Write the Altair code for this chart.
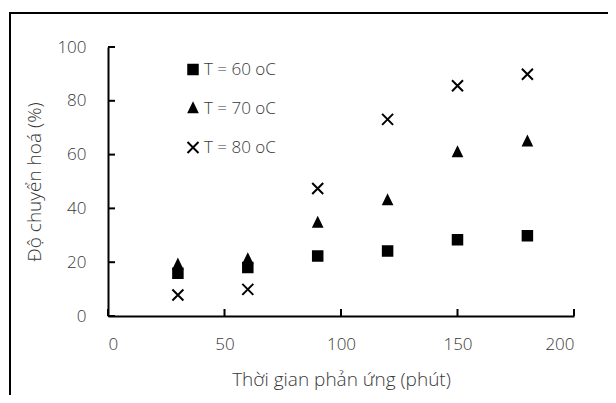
import altair as alt
import pandas as pd

times = [30, 60, 90, 120, 150, 180]
conv_60 = [15.9, 18.0, 22.3, 24.2, 28.3, 29.8]
conv_70 = [19.0, 21.0, 34.6, 42.9, 60.8, 64.8]
conv_80 = [7.8, 9.9, 47.4, 73.1, 85.6, 89.9]
series = ["T = 60 oC", "T = 70 oC", "T = 80 oC"]
x_ticks = [0, 50, 100, 150, 200]
y_ticks = [0, 20, 40, 60, 80, 100]
x_title = "Thời gian phản ứng (phút)"
y_title = "Độ chuyển hoá (%)"

W, H = 466, 269
FONT = "Open Sans"
TXT = "#383838"

rows = []
for name, vals in zip(series, [conv_60, conv_70, conv_80]):
    for t, v in zip(times, vals):
        rows.append({"t": t, "v": v, "s": name})
df = pd.DataFrame(rows)

sq = "M-0.95,-0.95L0.95,-0.95L0.95,0.95L-0.95,0.95Z"
tri = "M0,-1L0.85,0.75L-0.85,0.75Z"
cross = "M-1.1,-1.1L1.1,1.1M1.1,-1.1L-1.1,1.1"

xs = alt.Scale(domain=[0, 200], nice=False, zero=True)
ys = alt.Scale(domain=[0, 100], nice=False, zero=True)

points = alt.Chart(df).mark_point(
    filled=True, color="black", fill="black", stroke="black", strokeWidth=2,
    opacity=1, fillOpacity=1, strokeOpacity=1, size=100
).encode(
    x=alt.X("t:Q", scale=xs, axis=alt.Axis(
        values=x_ticks, title=x_title, ticks=False, grid=False,
        labelPadding=20, titlePadding=18)),
    y=alt.Y("v:Q", scale=ys, axis=alt.Axis(
        values=y_ticks, title=y_title, ticks=False, grid=False,
        labelPadding=22, titlePadding=12)),
    shape=alt.Shape("s:N", scale=alt.Scale(domain=series, range=[sq, tri, cross]),
                    legend=None),
)

leg_df = pd.DataFrame({"s": series})
leg_y = alt.Y("s:N", scale=alt.Scale(domain=series, range=[3, 120]), axis=None)
leg_pts = alt.Chart(leg_df).mark_point(
    filled=True, color="black", fill="black", stroke="black", strokeWidth=2,
    opacity=1, size=100
).encode(
    y=leg_y, x=alt.value(85),
    shape=alt.Shape("s:N", scale=alt.Scale(domain=series, range=[sq, tri, cross]),
                    legend=None),
)
leg_txt = alt.Chart(leg_df).mark_text(
    align="left", baseline="middle", font=FONT, fontSize=17, fontWeight=300,
    color=TXT
).encode(y=leg_y, x=alt.value(96), text="s:N")

xtick_df = pd.DataFrame({"x": x_ticks})
ytick_df = pd.DataFrame({"y": y_ticks})
xt = alt.Chart(xtick_df).mark_rule(color="black", strokeWidth=2).encode(
    x=alt.X("x:Q", scale=xs), y=alt.value(H), y2=alt.value(H - 7))
yt = alt.Chart(ytick_df).mark_rule(color="black", strokeWidth=2).encode(
    y=alt.Y("y:Q", scale=ys), x=alt.value(0), x2=alt.value(7))

one = pd.DataFrame({"k": [0]})
frame_top = alt.Chart(one).mark_rect(color="black", clip=False).encode(
    x=alt.value(-99), x2=alt.value(W + 40), y=alt.value(-35), y2=alt.value(-33))
frame_left = alt.Chart(one).mark_rect(color="black", clip=False).encode(
    x=alt.value(-99), x2=alt.value(-97), y=alt.value(-35), y2=alt.value(H + 100))

main = alt.layer(xt, yt, points)
legend = alt.layer(leg_pts, leg_txt)

chart = alt.layer(main, legend, frame_top, frame_left).resolve_scale(
    y="independent", shape="independent"
).properties(
    width=W, height=H,
    padding={"left": 100, "top": 39, "right": 34, "bottom": 79},
    autosize=alt.AutoSizeParams(type="none"),
    background="white",
).configure_view(stroke=None).configure_axis(
    domainColor="black", domainWidth=2,
    labelFont=FONT, labelFontSize=17, labelColor=TXT, labelFontWeight=300,
    titleFont=FONT, titleFontSize=19, titleColor=TXT, titleFontWeight=300,
)

chart.save("out.html", embed_options={"renderer": "svg", "actions": False})
